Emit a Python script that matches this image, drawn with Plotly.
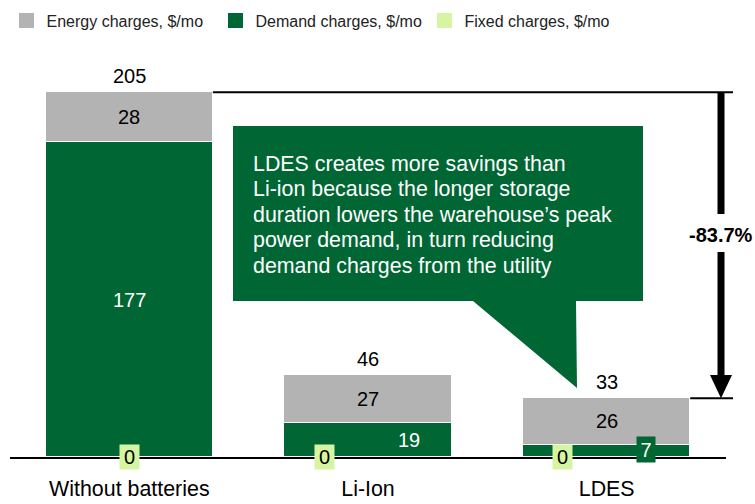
import plotly.graph_objects as go

# ---------------- data ----------------
categories = ["Without batteries", "Li-Ion", "LDES"]
energy = [28, 27, 26]
demand = [177, 19, 7]
fixed = [0, 0, 0]
totals = [205, 46, 33]
series_names = ["Energy charges, $/mo", "Demand charges, $/mo", "Fixed charges, $/mo"]
reduction_label = "-83.7%"
callout_lines = ["LDES creates more savings than",
                 "Li-ion because the longer storage",
                 "duration lowers the warehouse\u2019s peak",
                 "power demand, in turn reducing",
                 "demand charges from the utility"]

# ---------------- style ----------------
GRAY = "#b3b3b3"
GREEN = "#006633"
LIGHT = "#d6f5a3"
FONT = "Arial, Liberation Sans, sans-serif"

W, H = 755, 504
ML, MR, MT, MB = 10, 29, 30, 47
PW = W - ML - MR
PH = H - MT - MB
YMAX = 240
BAR_W = 0.70


def px_x(p):
    return (p - ML) / PW


def px_y(p):
    return (H - MB - p) / PH


def y_data(p):
    return (H - MB - p) / PH * YMAX


xs = list(range(len(categories)))

fig = go.Figure()
fig.add_trace(go.Bar(x=xs, y=fixed, name=series_names[2], width=BAR_W,
                     marker=dict(color=LIGHT, line=dict(width=0)), showlegend=False))
fig.add_trace(go.Bar(x=xs, y=demand, name=series_names[1], width=BAR_W,
                     marker=dict(color=GREEN, line=dict(color="white", width=1.5)), showlegend=False))
fig.add_trace(go.Bar(x=xs, y=energy, name=series_names[0], width=BAR_W,
                     marker=dict(color=GRAY, line=dict(color="white", width=1.5)), showlegend=False))

# legend entries
for name, col in zip(series_names, [GRAY, GREEN, LIGHT]):
    fig.add_trace(go.Scatter(x=[None], y=[None], mode="markers", name=name,
                             marker=dict(symbol="square", size=15, color=col)))

ann = []
shapes = []
for i in xs:
    # total above
    ann.append(dict(x=i, y=totals[i], text=str(totals[i]), showarrow=False,
                    yanchor="middle", yshift=16, font=dict(size=20, color="black", family=FONT)))
    # energy label
    ann.append(dict(x=i, y=demand[i] + energy[i] / 2, text=str(energy[i]), showarrow=False,
                    font=dict(size=20, color="black", family=FONT)))
    # demand label
    small = demand[i] < 50
    tiny = demand[i] < 10
    d = dict(x=i, y=demand[i] / 2, text=str(demand[i]), showarrow=False,
             xshift=41 if small else 0, font=dict(size=20, color="white", family=FONT))
    if tiny:
        d.update(bgcolor=GREEN, width=18, height=25, borderpad=0, yshift=1, xshift=39)
    ann.append(d)
    # fixed label
    ann.append(dict(x=i, y=fixed[i], text=str(fixed[i]), showarrow=False,
                    xshift=-44 if small else 0, bgcolor=LIGHT, width=19, height=24, borderpad=0,
                    font=dict(size=20, color="black", family=FONT)))

# callout
pts = [(233, 126), (643, 126), (643, 301), (576, 301), (577, 388), (473, 301), (233, 301)]
path = "M " + " L ".join(f"{px_x(a):.5f},{px_y(b):.5f}" for a, b in pts) + " Z"
shapes.append(dict(type="path", xref="paper", yref="paper", path=path,
                   fillcolor=GREEN, line=dict(width=0), layer="above"))
for k, line in enumerate(callout_lines):
    ann.append(dict(xref="paper", yref="paper", x=px_x(251), y=px_y(163.5 + 25.6 * k),
                    xanchor="left", yanchor="middle", align="left", text=line, showarrow=False,
                    font=dict(size=21.4, color="white", family=FONT)))

# bracket lines
bar1_edge = (xs[0] + BAR_W / 2 + 0.5) / len(xs)
bar3_edge = (xs[-1] + BAR_W / 2 + 0.5) / len(xs)
shapes.append(dict(type="line", xref="paper", yref="y", x0=bar1_edge, x1=px_x(733),
                   y0=totals[0], y1=totals[0], line=dict(color="black", width=2)))
shapes.append(dict(type="line", xref="paper", yref="y", x0=bar3_edge, x1=px_x(733),
                   y0=totals[-1], y1=totals[-1], line=dict(color="black", width=2)))
ax = px_x(721)
shapes.append(dict(type="line", xref="paper", yref="y", x0=ax, x1=ax,
                   y0=totals[0], y1=y_data(214), line=dict(color="black", width=7)))
shapes.append(dict(type="line", xref="paper", yref="y", x0=ax, x1=ax,
                   y0=y_data(252), y1=y_data(376), line=dict(color="black", width=7)))
head = (f"M {px_x(710):.5f},{y_data(375):.4f} L {px_x(732):.5f},{y_data(375):.4f} "
        f"L {ax:.5f},{totals[-1]} Z")
shapes.append(dict(type="path", xref="paper", yref="y", path=head,
                   fillcolor="black", line=dict(width=0)))
ann.append(dict(xref="paper", yref="paper", x=ax, y=px_y(235), xanchor="center", yanchor="middle",
                text=f"<b>{reduction_label}</b>",
                showarrow=False, font=dict(size=20, color="black", family=FONT)))

fig.update_layout(
    width=W, height=H,
    margin=dict(l=ML, r=MR, t=MT, b=MB, autoexpand=False),
    barmode="stack", bargap=0,
    paper_bgcolor="white", plot_bgcolor="white",
    font=dict(family=FONT, color="black"),
    showlegend=True,
    legend=dict(orientation="h", x=px_x(6.5), xanchor="left", y=px_y(20.5), yanchor="middle",
                font=dict(size=16, color="#222222", family=FONT), entrywidth=164,
                traceorder="normal", bgcolor="rgba(0,0,0,0)", itemclick=False),
    xaxis=dict(range=[-0.5, 2.5], tickvals=xs, ticktext=categories, showline=True,
               linecolor="black", linewidth=2, ticks="", showgrid=False, zeroline=False,
               tickfont=dict(size=21.4, color="black", family=FONT), ticklabelstandoff=11,
               fixedrange=True),
    yaxis=dict(range=[0, YMAX], visible=False, fixedrange=True),
    annotations=ann,
    shapes=shapes,
)

fig.write_html("out.html", config={"displayModeBar": False},
               post_script="document.body.style.margin='0';")
